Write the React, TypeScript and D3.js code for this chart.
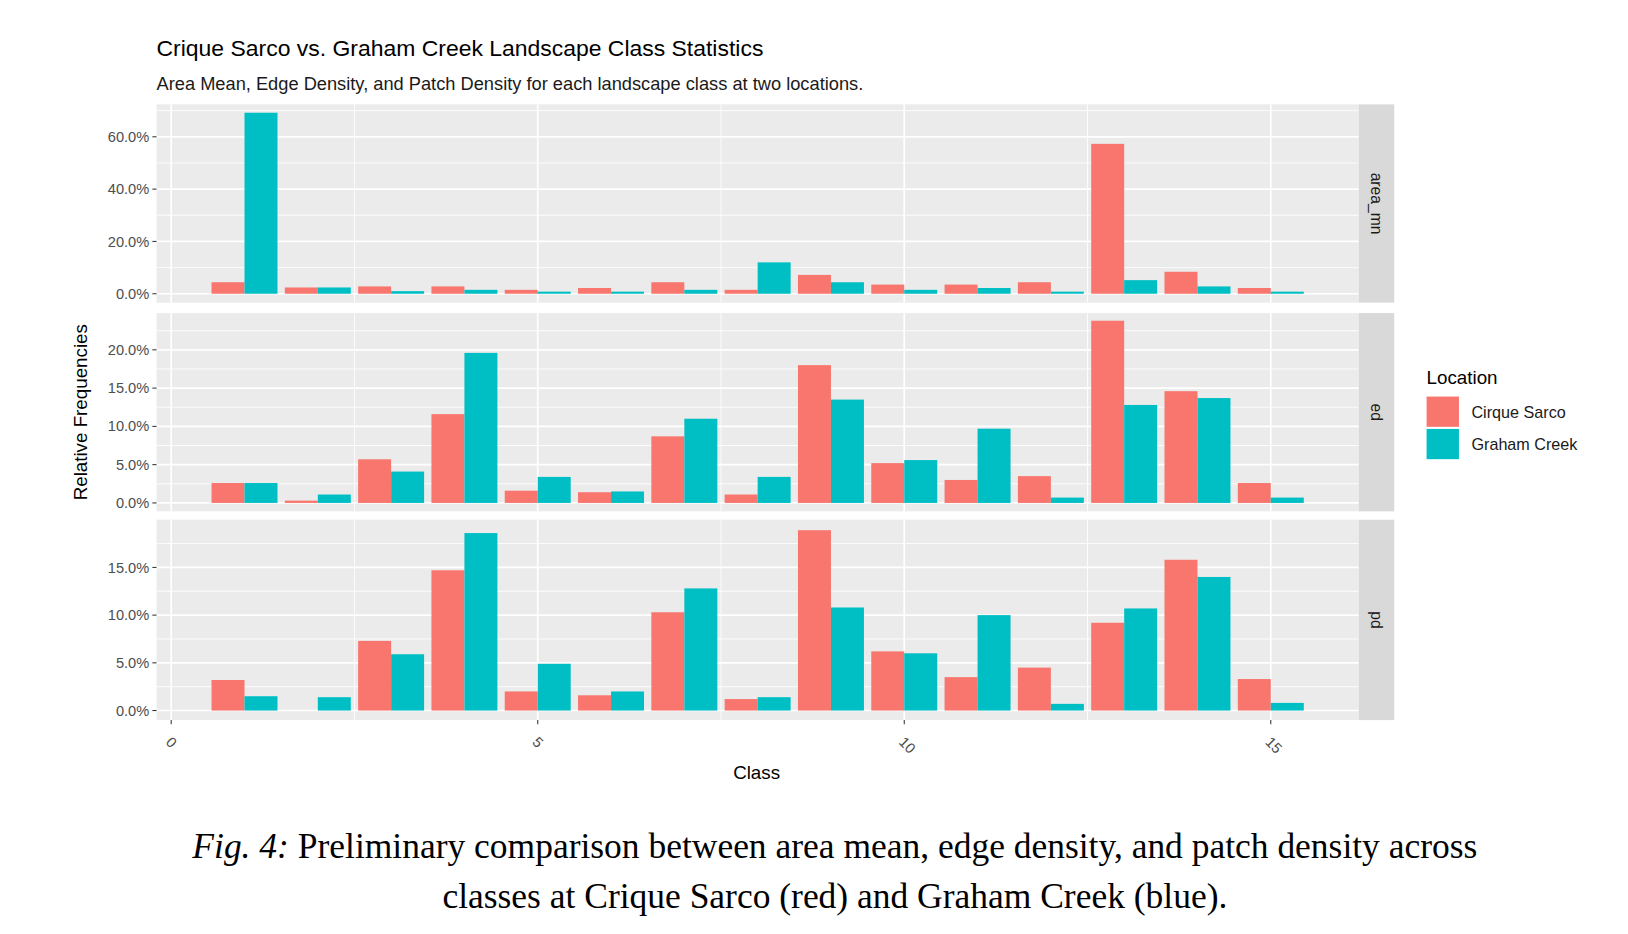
import React from "react";
import * as d3 from "d3";

const classes = [1,2,3,4,5,6,7,8,9,10,11,12,13,14,15];
const locations = ["Cirque Sarco", "Graham Creek"];
const colors = ["#F8766D", "#00BFC4"];
const areaCS = [4.4,2.4,2.8,2.8,1.5,2.2,4.4,1.5,7.2,3.5,3.5,4.4,57.3,8.4,2.2];
const areaGC = [69.2,2.4,1.0,1.5,0.8,0.8,1.5,12,4.4,1.5,2.2,0.8,5.2,2.8,0.8];
const edCS = [2.6,0.3,5.7,11.6,1.6,1.4,8.7,1.1,18.0,5.2,3.0,3.5,23.8,14.6,2.6];
const edGC = [2.6,1.1,4.1,19.6,3.4,1.5,11.0,3.4,13.5,5.6,9.7,0.7,12.8,13.7,0.7];
const pdCS = [3.2,0,7.3,14.7,2.0,1.6,10.3,1.2,18.9,6.2,3.5,4.5,9.2,15.8,3.3];
const pdGC = [1.5,1.4,5.9,18.6,4.9,2.0,12.8,1.4,10.8,6.0,10.0,0.7,10.7,14.0,0.8];
const xTicks = [0,5,10,15];

const panels = [
  { name: "area_mn", cs: areaCS, gc: areaGC, top: 100, bottom: 290, dom: [-3.4, 72.4], major: [0,20,40,60], minor: [10,30,50,70] },
  { name: "ed", cs: edCS, gc: edGC, top: 300, bottom: 490, dom: [-1.1, 24.8], major: [0,5,10,15,20], minor: [2.5,7.5,12.5,17.5,22.5] },
  { name: "pd", cs: pdCS, gc: pdGC, top: 498, bottom: 690, dom: [-1.0, 20.0], major: [0,5,10,15], minor: [2.5,7.5,12.5,17.5] },
];

const L = 150, R = 1302, STRIP = 34;
const FONT = "Liberation Sans, Arial, sans-serif";

export default function App() {
  const x = d3.scaleLinear().domain([-0.2, 16.2]).range([L, R]);
  const bw = x(0.45) - x(0);
  const k = 1628 / 1560;
  return (
    <svg width={1628} height={934} style={{ position: "absolute", left: 0, top: 0, background: "#fff" }} fontFamily={FONT}>
      <g transform={`scale(${k})`}>
        <text x={150} y={54} fontSize={22} fill="#000">Crique Sarco vs. Graham Creek Landscape Class Statistics</text>
        <text x={150} y={86} fontSize={17.5} fill="#1a1a1a">Area Mean, Edge Density, and Patch Density for each landscape class at two locations.</text>
        {panels.map((p) => {
          const y = d3.scaleLinear().domain(p.dom).range([p.bottom, p.top]);
          return (
            <g key={p.name}>
              <rect x={L} y={p.top} width={R - L} height={p.bottom - p.top} fill="#EBEBEB" />
              {p.minor.map((v) => <line key={"m" + v} x1={L} x2={R} y1={y(v)} y2={y(v)} stroke="#fff" strokeWidth={0.8} />)}
              {p.major.map((v) => <line key={"M" + v} x1={L} x2={R} y1={y(v)} y2={y(v)} stroke="#fff" strokeWidth={1.6} />)}
              {[2.5, 7.5, 12.5].map((v) => <line key={"xm" + v} x1={x(v)} x2={x(v)} y1={p.top} y2={p.bottom} stroke="#fff" strokeWidth={0.8} />)}
              {xTicks.map((v) => <line key={"xM" + v} x1={x(v)} x2={x(v)} y1={p.top} y2={p.bottom} stroke="#fff" strokeWidth={1.6} />)}
              {classes.map((c, i) => (
                <g key={c}>
                  {p.cs[i] > 0 && <rect x={x(c) - bw} y={y(p.cs[i])} width={bw} height={y(0) - y(p.cs[i])} fill={colors[0]} />}
                  {p.gc[i] > 0 && <rect x={x(c)} y={y(p.gc[i])} width={bw} height={y(0) - y(p.gc[i])} fill={colors[1]} />}
                </g>
              ))}
              {p.major.map((v) => (
                <g key={"t" + v}>
                  <line x1={L - 4} x2={L} y1={y(v)} y2={y(v)} stroke="#333" />
                  <text x={L - 7} y={y(v)} dy="0.35em" textAnchor="end" fontSize={14} fill="#4D4D4D">{v.toFixed(1)}%</text>
                </g>
              ))}
              <rect x={R} y={p.top} width={STRIP} height={p.bottom - p.top} fill="#D9D9D9" />
              <text transform={`translate(${R + STRIP / 2},${(p.top + p.bottom) / 2}) rotate(90)`} textAnchor="middle" dy="0.35em" fontSize={15} fill="#1a1a1a">{p.name}</text>
            </g>
          );
        })}
        {xTicks.map((v) => (
          <g key={v}>
            <line x1={x(v)} x2={x(v)} y1={690} y2={694} stroke="#333" />
            <text transform={`translate(${x(v) - 6},${712}) rotate(45)`} fontSize={14} fill="#4D4D4D">{v}</text>
          </g>
        ))}
        <text x={725} y={746} textAnchor="middle" fontSize={18} fill="#000">Class</text>
        <text transform="translate(83,395) rotate(-90)" textAnchor="middle" fontSize={18} fill="#000">Relative Frequencies</text>
        <text x={1367} y={368} fontSize={18} fill="#000">Location</text>
        {locations.map((l, i) => (
          <g key={l}>
            <rect x={1367} y={380 + i * 31} width={31} height={29} fill={colors[i]} />
            <text x={1410} y={395 + i * 31} dy="0.35em" fontSize={15.5} fill="#1a1a1a">{l}</text>
          </g>
        ))}
        <text x={800} y={822} textAnchor="middle" fontFamily="Liberation Serif, Times New Roman, serif" fontSize={34} fill="#000">
          <tspan fontStyle="italic">Fig. 4:</tspan> Preliminary comparison between area mean, edge density, and patch density across
        </text>
        <text x={800} y={870} textAnchor="middle" fontFamily="Liberation Serif, Times New Roman, serif" fontSize={34} fill="#000">
          classes at Crique Sarco (red) and Graham Creek (blue).
        </text>
      </g>
    </svg>
  );
}
